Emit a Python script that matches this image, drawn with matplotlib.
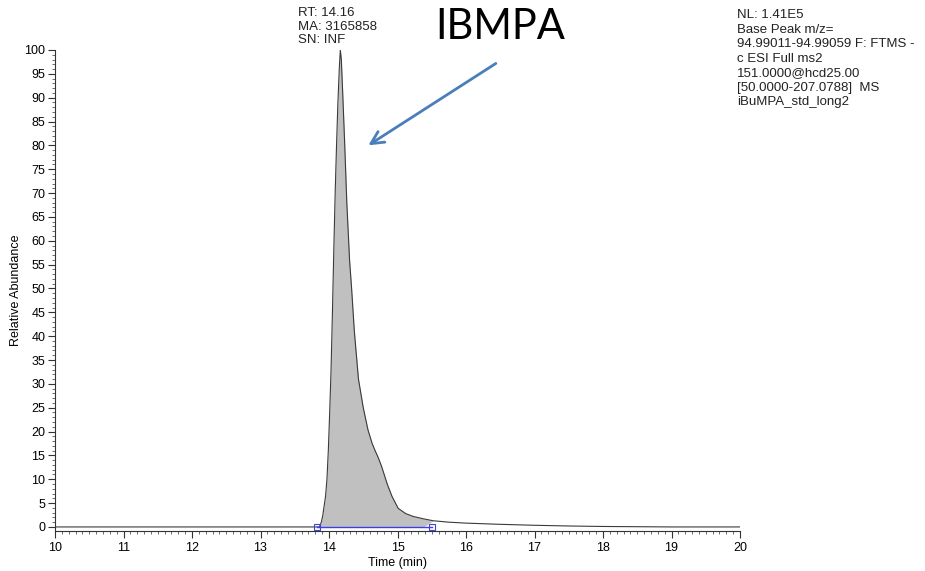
import matplotlib
matplotlib.use("Agg")
import matplotlib.pyplot as plt
from matplotlib.ticker import MultipleLocator

# chromatogram trace
time_min = [10.0, 13.80, 13.86, 13.89, 13.91, 13.93, 13.95, 13.97, 13.99, 14.01,
            14.03, 14.05, 14.07, 14.09, 14.11, 14.13, 14.15, 14.165, 14.18, 14.20,
            14.23, 14.26, 14.30, 14.33, 14.37, 14.43, 14.50, 14.57, 14.63, 14.67,
            14.72, 14.77, 14.85, 14.92, 15.01, 15.12, 15.23, 15.38, 15.52, 15.75,
            16.0, 16.5, 17.0, 17.5, 18.0, 18.5, 19.0, 20.0]
rel_abund = [0, 0, 0, 1.1, 2.5, 4.5, 6.5, 10, 16, 24,
             33, 45, 58, 70, 80, 89, 96, 100, 98, 91,
             80, 68, 56, 50, 41, 31, 25, 20.3, 17.5, 16.1,
             14.5, 12.6, 9, 6.4, 3.9, 2.8, 2.2, 1.7, 1.3, 1.0,
             0.8, 0.55, 0.35, 0.2, 0.1, 0.05, 0, 0]

peak_start = 13.83
peak_end = 15.50

peak_info = "RT: 14.16\nMA: 3165858\nSN: INF"
scan_info = ("NL: 1.41E5\nBase Peak m/z=\n94.99011-94.99059 F: FTMS -\n"
             "c ESI Full ms2\n151.0000@hcd25.00\n[50.0000-207.0788]  MS\n"
             "iBuMPA_std_long2")

plt.rcParams['font.family'] = ['Liberation Sans', 'DejaVu Sans']

fig = plt.figure(figsize=(9.25, 5.71), dpi=100)
ax = fig.add_axes([55 / 925, 40 / 571, 685 / 925, 481 / 571])

ax.plot(time_min, rel_abund, color='#3a3a3a', lw=0.8, zorder=3)
ax.fill_between(time_min, rel_abund, 0,
                where=[(t >= peak_start) and (t <= peak_end) for t in time_min],
                interpolate=True, color='#c0c0c0', lw=0, zorder=2)
ax.plot([peak_start, peak_end], [0, 0], color='#4040e0', lw=1, zorder=4)
ax.plot([peak_start, peak_end], [0, 0], ls='none', marker='s', ms=4,
        mfc='none', mec='#4040e0', mew=0.8, zorder=4)

ax.set_xlim(10, 20)
ax.set_ylim(-0.85, 100)
ax.xaxis.set_major_locator(MultipleLocator(1))
ax.xaxis.set_minor_locator(MultipleLocator(0.1))
ax.yaxis.set_major_locator(MultipleLocator(5))
ax.yaxis.set_minor_locator(MultipleLocator(1))
ax.tick_params(which='major', length=5, width=0.8, labelsize=9, color='#333333')
ax.tick_params(which='minor', length=2.5, width=0.6, color='#555555')
ax.tick_params(axis='x', pad=3)
ax.tick_params(axis='y', pad=2)

for side in ['top', 'right']:
    ax.spines[side].set_visible(False)
for side in ['left', 'bottom']:
    ax.spines[side].set_linewidth(0.8)
    ax.spines[side].set_color('#333333')

ax.set_xlabel('Time (min)', fontsize=9, labelpad=2)
ax.set_ylabel('Relative Abundance', fontsize=9)
ax.yaxis.set_label_coords(-0.048, 0.5)

fig.text(298 / 925, 1 - 7 / 571, peak_info, fontsize=9.5, va='top', ha='left',
         linespacing=1.18, color='#222222')
fig.text(737 / 925, 1 - 9 / 571, scan_info, fontsize=9.5, va='top', ha='left',
         linespacing=1.28, color='#222222')
fig.text(500 / 925, 1 - 27 / 571, 'IBMPA', fontsize=30, family=['Lato', 'DejaVu Sans'],
         ha='center', va='center', color='black')

ax.annotate('', xy=(14.54, 79.7), xytext=(16.47, 97.5),
            arrowprops=dict(arrowstyle='->, head_length=0.9, head_width=0.45',
                            color='#4a7ebb', lw=2),
            annotation_clip=False, zorder=5)

fig.savefig('out.png', dpi=100)
